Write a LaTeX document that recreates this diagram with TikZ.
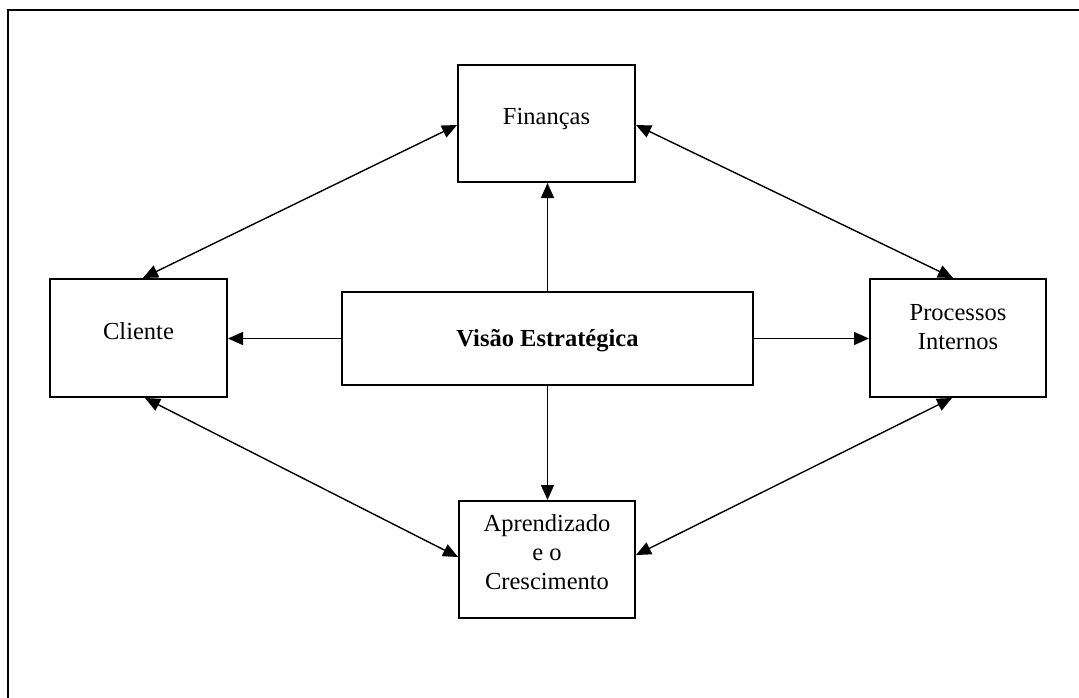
\documentclass[tikz,border=0pt]{standalone}
\usepackage{fontspec}
\setmainfont{Liberation Serif}
\usetikzlibrary{arrows.meta}
\tikzset{
  box/.style={draw, line width=2pt, rectangle, inner sep=0pt},
  lbl/.style={font=\fontsize{24.5}{29}\selectfont, align=center, inner sep=0pt},
  conn/.style={line width=1.4pt, -{Triangle[length=15pt,width=13pt]}},
  dconn/.style={line width=1.4pt, {Triangle[length=15pt,width=13pt]}-{Triangle[length=15pt,width=13pt]}},
}
\begin{document}
\begin{tikzpicture}[x=1pt,y=-1pt]
\useasboundingbox (0,0) rectangle (1079,698);
% outer frame (only top and left visible)
\draw[line width=2pt] (8,698) -- (8,10) -- (1079,10);
% boxes
\node[box, minimum width=177pt, minimum height=117pt] (fin) at (546.5,123.5) {};
\node[box, minimum width=177pt, minimum height=118pt] (cli) at (138.5,338) {};
\node[box, minimum width=411pt, minimum height=93pt] (vis) at (547.5,338.5) {};
\node[box, minimum width=176pt, minimum height=118pt] (pro) at (958,338) {};
\node[box, minimum width=176pt, minimum height=117pt] (apr) at (547,559.5) {};
% texts (multi-line nodes: base = last line's baseline)
\node[lbl, anchor=base] (tfin) at (546.5,125) {Finanças};
\node[lbl, anchor=base] (tcli) at (138.5,339) {Cliente};
\node[lbl, anchor=base] (tvis) at (547.5,346) {\textbf{Visão Estratégica}};
\node[lbl, anchor=base] (tpro) at (958,349) {Processos\\Internos};
\node[lbl, anchor=base] (tapr) at (547,589) {Aprendizado\\e o\\Crescimento};
% straight arrows from centre
\draw[conn] (vis.north) -- (vis.north |- fin.south);
\draw[conn] (vis.west) -- (cli.east |- vis.west);
\draw[conn] (vis.east) -- (pro.west |- vis.east);
\draw[conn] (vis.south) -- (vis.south |- apr.north);
% double arrows
\draw[dconn] ([yshift=-1.5pt]fin.west) -- ([xshift=4.5pt]cli.north);
\draw[dconn] ([yshift=-1.5pt]fin.east) -- ([xshift=-5pt]pro.north);
\draw[dconn] ([xshift=6.5pt]cli.south) -- ([yshift=2.5pt]apr.west);
\draw[dconn] ([xshift=-6pt]pro.south) -- ([yshift=4.5pt]apr.east);
\end{tikzpicture}
\end{document}
